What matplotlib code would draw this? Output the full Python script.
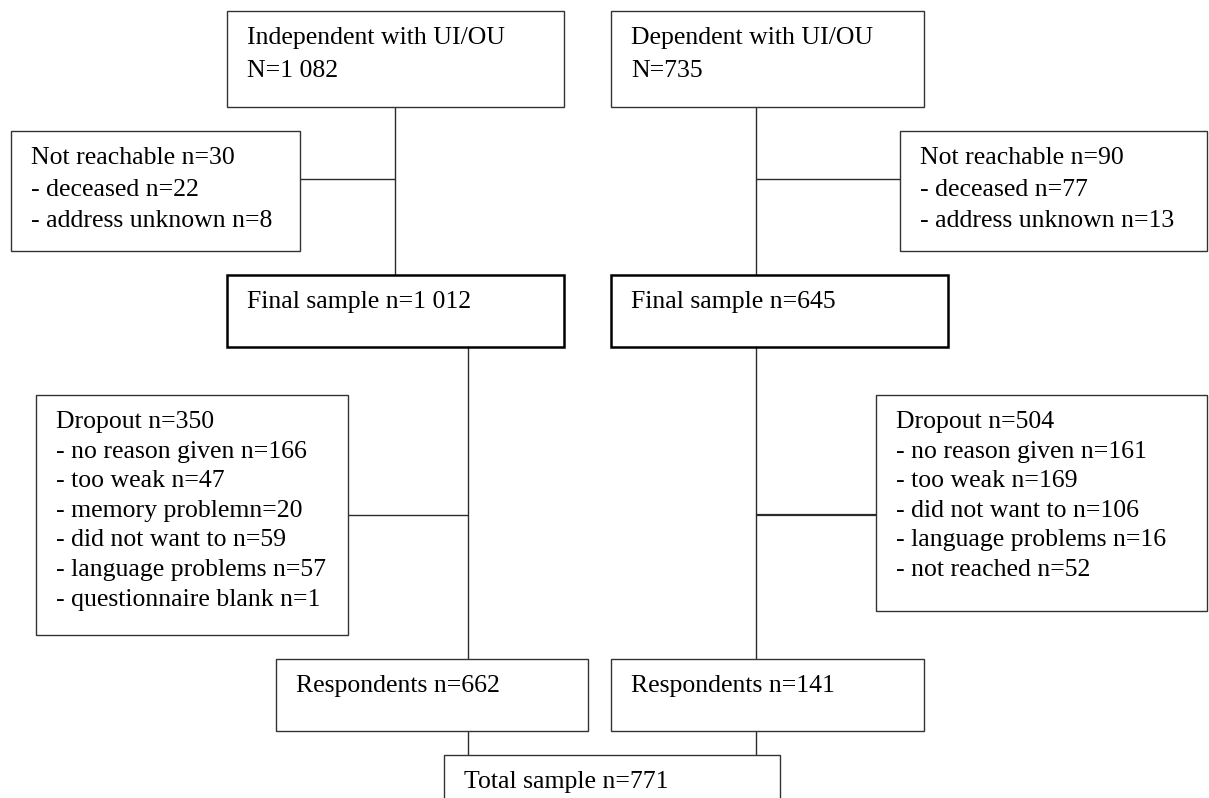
import matplotlib.pyplot as plt
from matplotlib.patches import Rectangle

# box texts
indep_lines = ["Independent with UI/OU", "N=1 082"]
dep_lines = ["Dependent with UI/OU", "N=735"]
nr_left_lines = ["Not reachable n=30", "- deceased n=22", "- address unknown n=8"]
nr_right_lines = ["Not reachable n=90", "- deceased n=77", "- address unknown n=13"]
final_left_lines = ["Final sample n=1 012"]
final_right_lines = ["Final sample n=645"]
drop_left_lines = ["Dropout n=350", "- no reason given n=166", "- too weak n=47",
                   "- memory problemn=20", "- did not want to n=59",
                   "- language problems n=57", "- questionnaire blank n=1"]
drop_right_lines = ["Dropout n=504", "- no reason given n=161", "- too weak n=169",
                    "- did not want to n=106", "- language problems n=16",
                    "- not reached n=52"]
resp_left_lines = ["Respondents n=662"]
resp_right_lines = ["Respondents n=141"]
total_lines = ["Total sample n=771"]

# layout in pixels: (lines, left, top, right, bottom, line spacing, edge width)
boxes = [
    (indep_lines, 227, 11, 564, 107, 33, 1.0),
    (dep_lines, 611, 11, 924, 107, 33, 1.0),
    (nr_left_lines, 11, 131, 300, 251, 31.5, 1.0),
    (nr_right_lines, 900, 131, 1207, 251, 31.5, 1.0),
    (final_left_lines, 227, 275, 564, 347, 30, 1.8),
    (final_right_lines, 611, 275, 948, 347, 30, 1.8),
    (drop_left_lines, 36, 395, 348, 635, 29.6, 1.0),
    (drop_right_lines, 876, 395, 1207, 611, 29.6, 1.0),
    (resp_left_lines, 276, 659, 588, 731, 30, 1.0),
    (resp_right_lines, 611, 659, 924, 731, 30, 1.0),
    (total_lines, 444, 755, 780, 812, 30, 1.0),
]

# connectors: (x0, y0, x1, y1, width)
connectors = [
    (395, 107, 395, 275, 1.0),
    (300, 179, 395, 179, 1.0),
    (756, 107, 756, 275, 1.0),
    (756, 179, 900, 179, 1.0),
    (468, 347, 468, 659, 1.0),
    (348, 515, 468, 515, 1.0),
    (756, 347, 756, 659, 1.0),
    (756, 515, 876, 515, 1.6),
    (468, 731, 468, 755, 1.0),
    (756, 731, 756, 755, 1.0),
]

fig = plt.figure(figsize=(12.09, 7.98), dpi=100)
ax = fig.add_axes([0, 0, 1, 1])
ax.set_xlim(0, 1209)
ax.set_ylim(798, 0)
ax.axis("off")

for x0, y0, x1, y1, lw in connectors:
    ax.plot([x0, x1], [y0, y1], color="#2b2b2b", lw=lw, solid_capstyle="butt")

for lines, left, top, right, bottom, spacing, lw in boxes:
    ec = "black" if lw > 1.5 else "#333333"
    ax.add_patch(Rectangle((left, top), right - left, bottom - top,
                           facecolor="white", edgecolor=ec, lw=lw, zorder=2))
    for i, line in enumerate(lines):
        ax.text(left + 20, top + 33 + i * spacing, line, fontsize=18.5,
                family="Liberation Serif", va="baseline", ha="left",
                color="black", zorder=3)

fig.savefig("out.png", dpi=100)
